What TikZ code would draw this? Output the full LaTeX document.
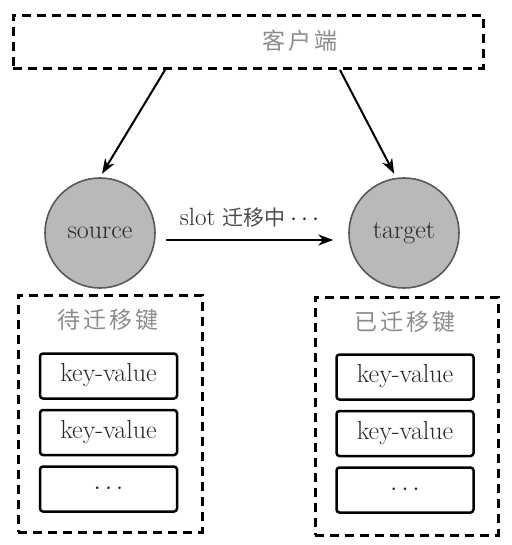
\documentclass[tikz,border=0pt]{standalone}
\usepackage{fontspec}
\usepackage{tikz}
\usetikzlibrary{positioning,arrows.meta}
\newfontfamily\cjk[LetterSpace=12]{Noto Sans CJK SC}
\newfontfamily\cjkplain{Noto Sans CJK SC}

\begin{document}
\begin{tikzpicture}[x=1pt,y=-1pt]
    \tikzset{execute at begin node=\strut}
    \tikzset{dashbox/.style={draw, dash pattern=on 9pt off 6pt, line width=3pt, minimum width=#1}}
    \tikzset{server/.style={circle, draw=gray!70!black, fill=gray!55, line width=1.6pt, minimum size=110pt, inner sep=0pt, font=\fontsize{26}{28}\selectfont, text=black!85}}
    \tikzset{kv/.style={draw, line width=2.5pt, rounded corners=3pt, minimum width=137pt, minimum height=45pt, inner sep=0pt, font=\fontsize{26}{28}\selectfont, text=black!85}}
    \tikzset{title/.style={font=\cjk\fontsize{23}{26}\selectfont, text=gray!90, inner sep=0pt}}
    \tikzset{arrow/.style={-{Stealth[length=15pt,width=11pt]}, line width=2pt}}
    \useasboundingbox (0,0) rectangle (511,545);

    % client bar
    \node[dashbox=470pt, minimum height=53pt] (client) at (248,42) {};
    \node[title] (clientname) at (300,44) {客户端};

    % nodes
    \node[server] (source) at (100,233) {source};
    \node[server] (target) at (404,233) {target};

    \draw[arrow, shorten >=4pt] ([xshift=-83pt]client.south) -- (source.north);
    \draw[arrow, shorten >=4pt] ([xshift=92pt]client.south) -- ([xshift=-8pt]target.north);
    \draw[arrow] ([shift={(10pt,-7pt)}]source.east) -- ([shift={(-15pt,-7pt)}]target.west)
        node[midway, above=5pt, inner sep=0pt, font=\fontsize{25}{28}\selectfont, text=black!85] (migrating) {slot {\cjkplain\fontsize{21}{26}\selectfont\color{black!70} 迁移中}\,$\cdots$};

    % pending keys
    \node[dashbox=184pt, minimum height=237pt] (pending) at (110,413.5) {};
    \node[title] (pendingname) at (108,323) {待迁移键};
    \node[kv] (lkv1) at (108.5,376) {key-value};
    \node[kv, below=9pt of lkv1] (lkv2) {key-value};
    \node[kv, below=9pt of lkv2] (lkv3) {$\cdots$};

    % migrated keys
    \node[dashbox=183pt, minimum height=238pt] (migrated) at (406.5,416) {};
    \node[title] (migratedname) at (405,325) {已迁移键};
    \node[kv] (rkv1) at (405,377) {key-value};
    \node[kv, below=9pt of rkv1] (rkv2) {key-value};
    \node[kv, below=9pt of rkv2] (rkv3) {$\cdots$};
\end{tikzpicture}
\end{document}
